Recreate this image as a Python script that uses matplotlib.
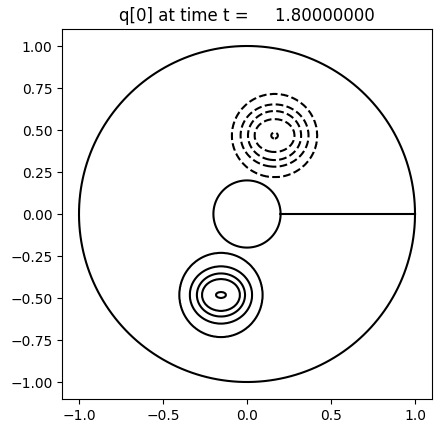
import numpy as np
import matplotlib
matplotlib.use("Agg")
import matplotlib.pyplot as plt

# --- data ---
title_text = "q[0] at time t =     1.80000000"
outer_radius = 1.0
inner_radius = 0.2
cut_x = [0.2, 1.0]
cut_y = [0.0, 0.0]

# solid (positive) blob: centre and contour semi-axes, inner -> outer
pos_center = (-0.155, -0.482)
pos_levels = [0.9, 0.7, 0.5, 0.3, 0.1]
pos_semi_x = [0.030, 0.113, 0.143, 0.185, 0.247]
pos_semi_y = [0.018, 0.095, 0.128, 0.170, 0.250]

# dashed (negative) blob
neg_center = (0.164, 0.467)
neg_levels = [-0.9, -0.7, -0.5, -0.3, -0.1]
neg_semi_x = [0.020, 0.119, 0.158, 0.202, 0.253]
neg_semi_y = [0.018, 0.098, 0.146, 0.185, 0.247]

xticks = [-1.0, -0.5, 0.0, 0.5, 1.0]
yticks = [-1.0, -0.75, -0.5, -0.25, 0.0, 0.25, 0.5, 0.75, 1.0]

# --- build field ---
g = np.linspace(-1.1, 1.1, 661)
X, Y = np.meshgrid(g, g)


def blob(c, lev, sa, sb):
    dx, dy = X - c[0], Y - c[1]
    rho = np.hypot(dx, dy)
    th = np.arctan2(dy, dx)
    peak = lev[0] + (lev[0] - lev[1]) * 0.1
    rs = [np.zeros_like(rho)]
    qs = [peak]
    for a, b, q in zip(sa, sb, lev):
        rs.append(a * b / np.sqrt((b * np.cos(th)) ** 2 + (a * np.sin(th)) ** 2))
        qs.append(q)
    rs.append(rs[-1] * 1.4)
    qs.append(0.0)
    out = np.zeros_like(rho)
    for i in range(len(rs) - 1):
        m = (rho >= rs[i]) & (rho < rs[i + 1])
        t = (rho - rs[i]) / (rs[i + 1] - rs[i])
        out[m] = (qs[i] + (qs[i + 1] - qs[i]) * t)[m]
    return out


Q = blob(pos_center, pos_levels, pos_semi_x, pos_semi_y) + \
    blob(neg_center, neg_levels, neg_semi_x, neg_semi_y)

fig = plt.figure(figsize=(4.41, 4.33), dpi=100)
ax = fig.add_axes([62.2 / 441, 1 - 398.8 / 433, 369.6 / 441, 369.6 / 433])
ax.contour(X, Y, Q, levels=sorted(neg_levels + pos_levels), colors='k', linewidths=1.5)

th = np.linspace(0, 2 * np.pi, 400)
ax.plot(outer_radius * np.cos(th), outer_radius * np.sin(th), 'k', lw=1.5)
ax.plot(inner_radius * np.cos(th), inner_radius * np.sin(th), 'k', lw=1.5)
ax.plot(cut_x, cut_y, 'k', lw=1.5)

ax.set_xlim(-1.1, 1.1)
ax.set_ylim(-1.1, 1.1)
ax.set_aspect('equal')
ax.set_xticks(xticks)
ax.set_yticks(yticks)
ax.set_title(title_text)

fig.savefig("out.png", dpi=100)
